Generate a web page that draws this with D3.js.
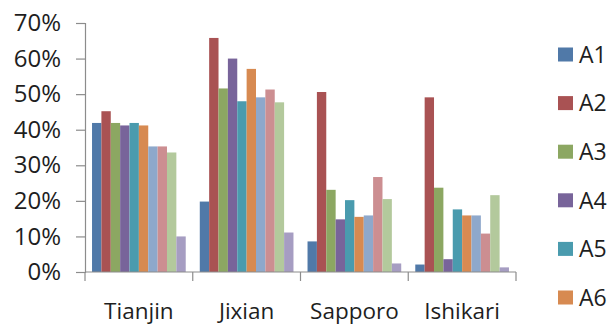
<!DOCTYPE html>
<html>
<head>
<meta charset="utf-8">
<script src="https://cdn.jsdelivr.net/npm/d3@7/dist/d3.min.js"></script>
<style>
  html, body { margin: 0; padding: 0; background: #fff; }
  svg { display: block; }
  text { font-family: "Open Sans", "Lato", sans-serif; fill: #1e1e1e; }
</style>
</head>
<body>
<svg id="chart" width="616" height="326"></svg>
<script>
// Share of respondents by site, for indicators A1–A10
const sites = ["Tianjin", "Jixian", "Sapporo", "Ishikari"];
const seriesNames = ["A1", "A2", "A3", "A4", "A5", "A6", "A7", "A8", "A9", "A10"];
const seriesColors = ["#5079a8", "#a95253", "#8ca762", "#78649a", "#4a9bae", "#d78a51",
                      "#8ea8cb", "#cc8e91", "#b3c99c", "#a69dc2"];
const tianjin  = [0.419, 0.452, 0.419, 0.412, 0.419, 0.412, 0.353, 0.353, 0.336, 0.100];
const jixian   = [0.198, 0.658, 0.516, 0.600, 0.480, 0.571, 0.491, 0.513, 0.477, 0.111];
const sapporo  = [0.086, 0.506, 0.231, 0.148, 0.202, 0.155, 0.159, 0.267, 0.205, 0.024];
const ishikari = [0.021, 0.491, 0.237, 0.036, 0.176, 0.159, 0.159, 0.108, 0.216, 0.013];
const yTicks = [0, 0.1, 0.2, 0.3, 0.4, 0.5, 0.6, 0.7];

const values = [tianjin, jixian, sapporo, ishikari];
const rows = sites.map((s, i) => ({ site: s, vals: values[i] }));

const W = 616, H = 326;
const svg = d3.select("#chart");
const plot = { left: 85, right: 516, top: 23, bottom: 272 };

const x0 = d3.scaleBand().domain(sites).range([plot.left, plot.right]).padding(0);
const bw = x0.bandwidth();
const barW = bw / (seriesNames.length + 1.5);
const x1 = d3.scaleBand().domain(seriesNames)
  .range([barW * 0.75, bw - barW * 0.75]).padding(0);
const y = d3.scaleLinear().domain([0, 0.7]).range([plot.bottom, plot.top]);
const color = d3.scaleOrdinal().domain(seriesNames).range(seriesColors);

// bars
const groups = svg.append("g").selectAll("g").data(rows).join("g")
  .attr("transform", d => `translate(${x0(d.site)},0)`);
groups.selectAll("rect")
  .data(d => d.vals.map((v, i) => ({ name: seriesNames[i], v })))
  .join("rect")
  .attr("x", d => x1(d.name))
  .attr("width", x1.bandwidth())
  .attr("y", d => y(d.v))
  .attr("height", d => y(0) - y(d.v))
  .attr("fill", d => color(d.name));

// y axis
const yAxis = d3.axisLeft(y).tickValues(yTicks).tickFormat(d3.format(".0%"))
  .tickSize(9).tickPadding(15);
const gy = svg.append("g").attr("transform", `translate(${plot.left},0)`).call(yAxis);
gy.select(".domain").attr("stroke", "#8c8c8c").attr("stroke-width", 1.2);
gy.selectAll(".tick line").attr("stroke", "#8c8c8c").attr("stroke-width", 1.2);
gy.selectAll(".tick text").attr("font-size", 24).attr("fill", "#1e1e1e")
  .style("font-family", "'Open Sans', sans-serif");

// x axis: baseline with tick marks at category boundaries
const gx = svg.append("g");
gx.append("line")
  .attr("x1", plot.left).attr("x2", plot.right)
  .attr("y1", y(0)).attr("y2", y(0))
  .attr("stroke", "#8c8c8c").attr("stroke-width", 1.2);
const bounds = sites.map(s => x0(s)).concat([plot.right]);
gx.selectAll("line.b").data(bounds).join("line").attr("class", "b")
  .attr("x1", d => d).attr("x2", d => d)
  .attr("y1", y(0)).attr("y2", y(0) + 9)
  .attr("stroke", "#8c8c8c").attr("stroke-width", 1.2);
gx.selectAll("text").data(sites).join("text")
  .attr("x", d => x0(d) + bw / 2)
  .attr("y", 319)
  .attr("text-anchor", "middle")
  .attr("font-size", 22.5)
  .text(d => d);

// legend: entries stacked down the right edge, as many as fit in the frame
const legendStep = 48.6, legendTop = 54.5;
const shown = seriesNames.filter((d, i) => legendTop + i * legendStep + 12 < H);
const legend = svg.append("g").attr("transform", "translate(558,0)");
const li = legend.selectAll("g").data(shown).join("g")
  .attr("transform", (d, i) => `translate(0,${legendTop + i * legendStep})`);
li.append("rect").attr("x", 0).attr("y", -7).attr("width", 15).attr("height", 14)
  .attr("fill", d => color(d));
li.append("text").attr("x", 21).attr("y", 0).attr("dy", "0.36em")
  .attr("font-size", 23).text(d => d);
</script>
</body>
</html>
